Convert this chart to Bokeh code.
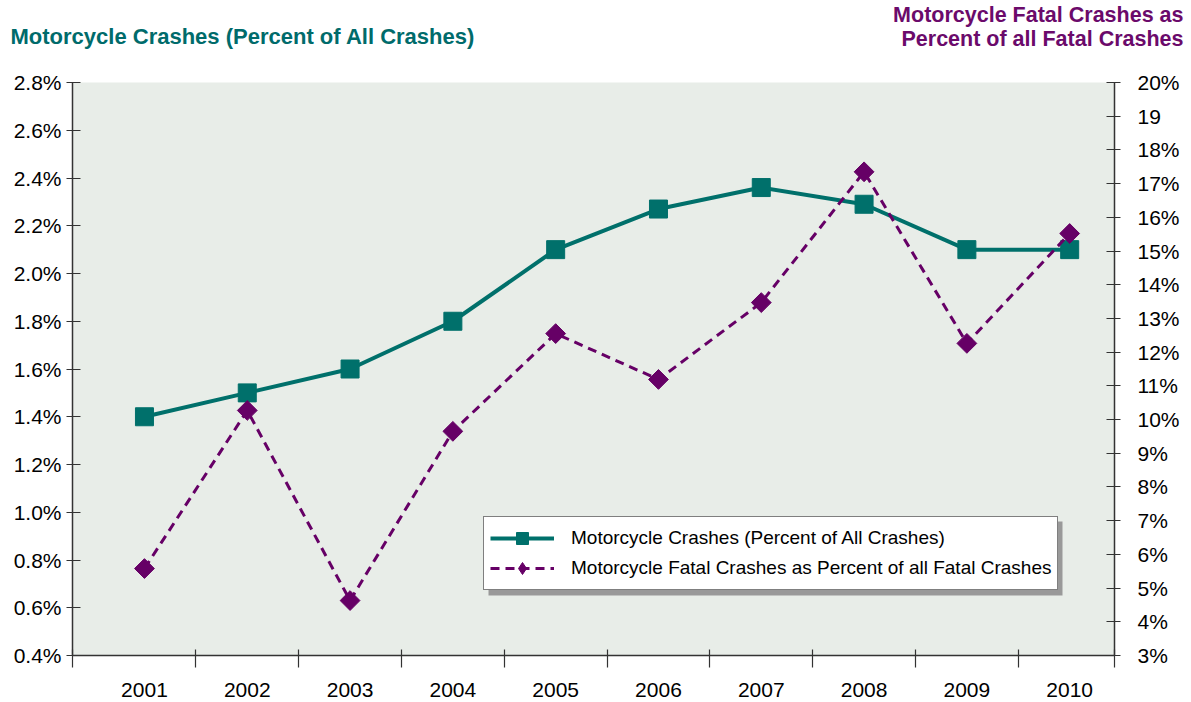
import math
from bokeh.plotting import figure
from bokeh.layouts import column
from bokeh.models import (Range1d, LinearAxis, FixedTicker, PrintfTickFormatter,
                          CustomJSTickFormatter, Label, Legend, LegendItem, BoxAnnotation)
from bokeh.embed import file_html
from bokeh.resources import INLINE

# ---- data ----
years = ["2001", "2002", "2003", "2004", "2005", "2006", "2007", "2008", "2009", "2010"]
crash_pct = [1.40, 1.50, 1.60, 1.80, 2.10, 2.27, 2.36, 2.29, 2.10, 2.10]
fatal_pct = [5.58, 10.27, 4.63, 9.65, 12.55, 11.19, 13.47, 17.35, 12.26, 15.52]
left_ticks = [0.4, 0.6, 0.8, 1.0, 1.2, 1.4, 1.6, 1.8, 2.0, 2.2, 2.4, 2.6, 2.8]
right_ticks = list(range(3, 21))
left_title = "Motorcycle Crashes (Percent of All Crashes)"
right_title = ["Motorcycle Fatal Crashes as", "Percent of all Fatal Crashes"]
legend_labels = ["Motorcycle Crashes (Percent of All Crashes)",
                 "Motorcycle Fatal Crashes as Percent of all Fatal Crashes"]

TEAL = "#00706B"
PURPLE = "#660066"
BG = "#E8EDE8"
FONT = "Liberation Sans"
AX_COLOR = "#333333"

x_pos = [i + 0.5 for i in range(len(years))]
X_START, X_END = -0.2, 9.936

# ---- title strip ----
TW, TH = 1190, 70
tfig = figure(width=TW, height=TH, output_backend="svg", toolbar_location=None,
              x_range=Range1d(0, TW), y_range=Range1d(TH, 0),
              min_border=0, x_axis_type=None, y_axis_type=None)
tfig.frame_align = False
tfig.outline_line_color = None
tfig.grid.visible = False
tfig.background_fill_color = "white"
tfig.add_layout(Label(x=10, y=36, text=left_title,
                      text_font=FONT, text_font_style="bold", text_font_size="22px",
                      text_color="#006B6B", text_align="left", text_baseline="middle"))
for i, t in enumerate(right_title):
    tfig.add_layout(Label(x=1183, y=14 + 24 * i, text=t,
                          text_font=FONT, text_font_style="bold", text_font_size="21.5px",
                          text_color="#6B0A6B", text_align="right", text_baseline="middle"))

# ---- main chart ----
p = figure(width=1190, height=630, output_backend="svg", toolbar_location=None,
           x_range=Range1d(X_START, X_END), y_range=Range1d(0.4, 2.8),
           min_border_left=72, min_border_right=76, min_border_top=12, min_border_bottom=45,
           x_axis_type=None, y_axis_type=None)
p.frame_align = False
p.background_fill_color = BG
p.border_fill_color = "white"
p.outline_line_color = None
p.grid.visible = False
p.extra_y_ranges = {"fatal": Range1d(3, 20)}

# frame geometry in window pixels (for legend shadow)
FX0, FX1, FY0, FY1 = 72, 1114, 82, 655
def dx(px):
    return X_START + (px - FX0) / (FX1 - FX0) * (X_END - X_START)
def dy(py):
    return 0.4 + (FY1 - py) / (FY1 - FY0) * 2.4

# bottom axis: labels at category centres, ticks at category boundaries
xa = LinearAxis(ticker=FixedTicker(ticks=x_pos,
                                   minor_ticks=[X_START] + list(range(1, len(years))) + [X_END]),
                major_label_overrides={x: y for x, y in zip(x_pos, years)})
xa.major_tick_in = 0
xa.major_tick_out = 0
xa.minor_tick_in = 6
xa.minor_tick_out = 12
xa.minor_tick_line_color = AX_COLOR
xa.minor_tick_line_width = 1.2
xa.axis_line_color = AX_COLOR
xa.axis_line_width = 1.5
xa.major_label_standoff = 15
xa.major_label_text_font = FONT
xa.major_label_text_font_size = "21px"
xa.major_label_text_color = "black"
p.add_layout(xa, "below")

# left axis
ya = LinearAxis(ticker=FixedTicker(ticks=left_ticks, minor_ticks=[]),
                formatter=PrintfTickFormatter(format="%.1f%%"))
ya.major_tick_in = 8
ya.major_tick_out = 6
ya.major_tick_line_color = AX_COLOR
ya.major_tick_line_width = 1.2
ya.axis_line_color = AX_COLOR
ya.axis_line_width = 1.5
ya.major_label_standoff = 5
ya.major_label_text_font = FONT
ya.major_label_text_font_size = "21px"
ya.major_label_text_color = "black"
p.add_layout(ya, "left")

# right axis
ra = LinearAxis(y_range_name="fatal", ticker=FixedTicker(ticks=right_ticks, minor_ticks=[]),
                formatter=CustomJSTickFormatter(code="return tick == 19 ? '19' : tick.toFixed(0) + '%';"))
ra.major_tick_in = 8
ra.major_tick_out = 6
ra.major_tick_line_color = AX_COLOR
ra.major_tick_line_width = 1.2
ra.axis_line_color = AX_COLOR
ra.axis_line_width = 1.5
ra.major_label_standoff = 17
ra.major_label_text_font = FONT
ra.major_label_text_font_size = "21px"
ra.major_label_text_color = "black"
p.add_layout(ra, "right")

# series
l1 = p.line(x_pos, crash_pct, line_color=TEAL, line_width=4)
s1 = p.scatter(x_pos, crash_pct, marker="square", size=18, fill_color=TEAL, line_color=TEAL)
l2 = p.line(x_pos, fatal_pct, y_range_name="fatal", line_color=PURPLE, line_width=3,
            line_dash="9 6")
s2 = p.scatter(x_pos, fatal_pct, y_range_name="fatal", marker="square", angle=math.pi / 4,
               size=14, fill_color=PURPLE, line_color=PURPLE)
# legend-only diamond glyph (not drawn in the plot: NaN position)
g2 = p.scatter([float("nan")], [float("nan")], y_range_name="fatal", marker="diamond",
               size=14, fill_color=PURPLE, line_color=PURPLE)

# legend shadow
shadow = BoxAnnotation(left=dx(488), right=dx(1062), top=dy(521), bottom=dy(595),
                       fill_color="#999999", fill_alpha=1.0, line_color=None)
p.add_layout(shadow)

legend = Legend(items=[
    LegendItem(label=legend_labels[0], renderers=[l1, s1]),
    LegendItem(label=legend_labels[1], renderers=[l2, g2]),
], location=(411, 65))
legend.border_line_color = "black"
legend.border_line_width = 1.5
legend.background_fill_color = "white"
legend.background_fill_alpha = 1.0
legend.label_text_font = FONT
legend.label_text_font_size = "19px"
legend.label_text_color = "black"
legend.glyph_width = 64
legend.glyph_height = 30
legend.label_height = 20
legend.spacing = 0
legend.padding = 6
legend.margin = 0
legend.label_standoff = 17
p.add_layout(legend, "center")

open("out.html", "w").write(file_html(column(tfig, p, spacing=0), INLINE))
